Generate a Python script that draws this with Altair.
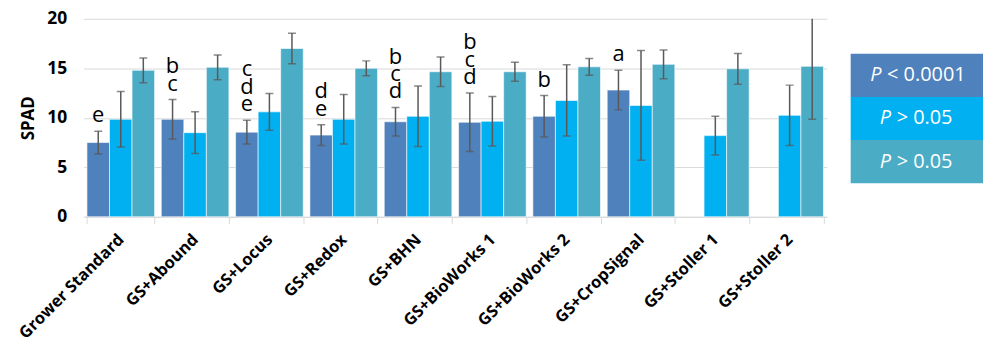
import altair as alt
import pandas as pd

treatments = ["Grower Standard", "GS+Abound", "GS+Locus", "GS+Redox", "GS+BHN",
              "GS+BioWorks 1", "GS+BioWorks 2", "GS+CropSignal", "GS+Stoller 1", "GS+Stoller 2"]
series_ids = ["s1", "s2", "s3"]
series_colors = ["#4F81BD", "#00B0F0", "#4BACC6"]
legend_rest = ["< 0.0001", "> 0.05", "> 0.05"]

s1_mean = [7.5, 9.85, 8.55, 8.25, 9.6, 9.55, 10.15, 12.8, None, None]
s1_sd = [1.15, 2.0, 1.2, 1.05, 1.45, 2.95, 2.1, 2.0, None, None]
s2_mean = [9.85, 8.5, 10.6, 9.85, 10.15, 9.65, 11.75, 11.25, 8.2, 10.25]
s2_sd = [2.8, 2.1, 1.85, 2.5, 3.05, 2.5, 3.6, 5.55, 1.95, 3.05]
s3_mean = [14.8, 15.1, 17.0, 15.0, 14.65, 14.65, 15.15, 15.4, 14.95, 15.2]
s3_sd = [1.25, 1.25, 1.55, 0.75, 1.5, 0.95, 0.85, 1.45, 1.55, 5.35]

letters = [["e"], ["b", "c"], ["c", "d", "e"], ["d", "e"], ["b", "c", "d"],
           ["b", "c", "d"], ["b"], ["a"], [], []]

PLOT_H = 199
Y_MAX = 20
LINE_PX = 17.5

rows = []
for i, t in enumerate(treatments):
    for sid, means, sds in zip(series_ids, [s1_mean, s2_mean, s3_mean], [s1_sd, s2_sd, s3_sd]):
        m = means[i]
        if m is None:
            continue
        rows.append({"treatment": t, "series": sid, "mean": m, "lo": m - sds[i], "hi": m + sds[i]})
df = pd.DataFrame(rows)

lrows = []
for i, t in enumerate(treatments):
    if letters[i] and s1_mean[i] is not None:
        n = len(letters[i])
        for j, ch in enumerate(letters[i]):
            lrows.append({"treatment": t, "series": "s1", "hi": s1_mean[i] + s1_sd[i],
                          "k": n - 1 - j, "txt": ch})
ldf = pd.DataFrame(lrows)

FONT = "Open Sans"
x_enc = alt.X("treatment:N", sort=treatments,
              scale=alt.Scale(paddingInner=0.09, paddingOuter=0.045),
              axis=alt.Axis(title=None, labelAngle=315, labelAlign="right", labelBaseline="middle",
                            labelFont=FONT, labelFontWeight="bold", labelFontSize=16.5,
                            labelColor="black", tickBand="extent", ticks=True, tickColor="#d9d9d9",
                            tickSize=7, domainColor="#d9d9d9", labelPadding=13, grid=False))
xo_enc = alt.XOffset("series:N", sort=series_ids, scale=alt.Scale(paddingInner=0, paddingOuter=0))
y_scale = alt.Scale(domain=[0, Y_MAX])
y_axis = alt.Axis(values=[0, 5, 10, 15, 20], title="SPAD", titleFont=FONT, titleFontWeight="bold",
                  titleFontSize=17, titleColor="black", labelFont=FONT, labelFontWeight="bold",
                  labelFontSize=17.5, labelColor="black", ticks=False, domain=False,
                  labelPadding=17, titlePadding=9, gridColor="#d9d9d9", grid=True)

base = alt.Chart(df).encode(x=x_enc, xOffset=xo_enc)

bars = base.mark_bar(stroke="white", strokeOpacity=0.6, strokeWidth=1).encode(
    y=alt.Y("mean:Q", scale=y_scale, axis=y_axis),
    color=alt.Color("series:N", scale=alt.Scale(domain=series_ids, range=series_colors), legend=None),
)
rules = base.mark_rule(color="#595959", strokeWidth=1.5, clip=True).encode(
    y=alt.Y("lo:Q", scale=y_scale, axis=y_axis), y2="hi:Q")
cap_hi = base.mark_tick(color="#595959", thickness=1.5, size=8, clip=True).encode(
    y=alt.Y("hi:Q", scale=y_scale, axis=y_axis))
cap_lo = base.mark_tick(color="#595959", thickness=1.5, size=8, clip=True).encode(
    y=alt.Y("lo:Q", scale=y_scale, axis=y_axis))
labels = alt.Chart(ldf).transform_calculate(
    ly=f"datum.hi + datum.k * {LINE_PX * Y_MAX / PLOT_H}"
).mark_text(font=FONT, fontSize=22, baseline="alphabetic",
            dy=-9, align="center", color="black").encode(
    x=x_enc, xOffset=xo_enc, y=alt.Y("ly:Q", scale=y_scale, axis=y_axis), text="txt:N")

main = alt.layer(bars, rules, cap_hi, cap_lo, labels).properties(width=747, height=PLOT_H)

leg_df = pd.DataFrame({"series": series_ids, "rest": legend_rest})
lbase = alt.Chart(leg_df).transform_calculate(
    w="17 + length(datum.rest) * 9.6"
).transform_calculate(
    xp="66.5 - datum.w / 2"
).transform_calculate(
    xr="datum.xp + 17"
).encode(y=alt.Y("series:N", sort=series_ids,
                 scale=alt.Scale(paddingInner=0, paddingOuter=0.796, align=0.51), axis=None))
lrect = lbase.mark_rect().encode(
    x=alt.value(0), x2=alt.value(133),
    color=alt.Color("series:N", scale=alt.Scale(domain=series_ids, range=series_colors), legend=None))
lp = lbase.mark_text(font=FONT, fontSize=20, fontStyle="italic", color="white",
                     align="left", baseline="middle").encode(
    x=alt.X("xp:Q", scale=None, axis=None), text=alt.value("P"))
lr = lbase.mark_text(font=FONT, fontSize=20, color="white", align="left", baseline="middle").encode(
    x=alt.X("xr:Q", scale=None, axis=None), text="rest:N")
legend = alt.layer(lrect, lp, lr).properties(width=133, height=PLOT_H)

chart = alt.hconcat(main, legend, spacing=24).properties(
    padding={"left": 8, "top": 1, "right": 0, "bottom": 0}
).configure_view(stroke=None)

chart.save("out.html", embed_options={"renderer": "svg", "actions": False})
